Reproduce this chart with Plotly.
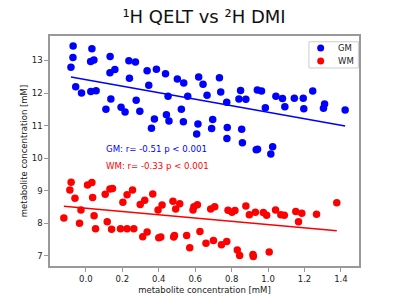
import numpy as np
import plotly.graph_objects as go

gm_x = [-0.070, -0.071, -0.082, 0.033, 0.026, 0.044, -0.056, -0.024, 0.027, 0.056,
        0.133, 0.132, 0.159, 0.236, 0.272, 0.239, 0.137, 0.110, 0.193, 0.215,
        0.276, 0.296, 0.336, 0.387, 0.437, 0.345, 0.451, 0.376, 0.360, 0.442,
        0.456, 0.502, 0.537, 0.559, 0.524, 0.535, 0.619, 0.643, 0.665, 0.615,
        0.608, 0.690, 0.733, 0.740, 0.773, 0.696, 0.776, 0.774, 0.849, 0.840,
        0.878, 0.855, 0.859, 0.941, 0.964, 0.985, 0.935, 0.942, 1.025, 1.015,
        1.043, 1.079, 1.092, 1.144, 1.193, 1.196, 1.245, 1.310, 1.304, 1.423]
gm_y = [13.44, 13.09, 12.79, 13.36, 12.97, 13.01, 12.19, 12.00, 12.05, 12.07,
        13.12, 12.62, 12.72, 12.99, 12.95, 12.45, 11.82, 11.50, 11.56, 11.42,
        11.78, 11.44, 12.68, 12.73, 12.59, 12.24, 11.90, 11.20, 10.92, 11.33,
        11.14, 12.43, 12.31, 11.90, 11.50, 11.12, 12.49, 12.27, 11.93, 11.05,
        10.74, 10.91, 12.47, 12.03, 11.72, 11.19, 10.94, 10.60, 12.08, 11.82,
        11.81, 10.89, 10.47, 12.09, 12.06, 11.55, 10.26, 10.27, 10.35, 10.13,
        11.90, 11.83, 11.58, 11.84, 11.84, 11.52, 12.06, 11.66, 11.53, 11.48]

wm_x = [-0.081, -0.088, -0.060, -0.121, -0.027, -0.035, 0.009, 0.033, 0.037, 0.045,
        0.053, 0.106, 0.132, 0.146, 0.117, 0.141, 0.203, 0.226, 0.256, 0.190,
        0.226, 0.263, 0.298, 0.323, 0.367, 0.312, 0.336, 0.396, 0.418, 0.400,
        0.411, 0.478, 0.493, 0.515, 0.482, 0.486, 0.553, 0.570, 0.588, 0.593,
        0.612, 0.626, 0.659, 0.685, 0.707, 0.700, 0.744, 0.773, 0.780, 0.802,
        0.818, 0.831, 0.844, 0.878, 0.897, 0.930, 0.917, 0.919, 0.974, 0.992,
        1.006, 1.041, 1.070, 1.089, 1.152, 1.185, 1.167, 1.266, 1.377]
wm_y = [9.26, 9.02, 8.77, 8.16, 8.41, 8.00, 9.18, 9.25, 8.79, 8.23,
        7.83, 8.89, 9.05, 9.07, 8.05, 7.82, 8.65, 8.88, 9.02, 7.83,
        7.83, 7.83, 8.58, 8.71, 8.90, 7.59, 7.73, 8.41, 8.56, 7.56,
        7.58, 8.68, 8.44, 8.60, 7.58, 7.63, 7.63, 7.25, 8.41, 8.51,
        8.57, 7.75, 7.39, 8.44, 8.51, 7.47, 7.34, 7.44, 8.40, 8.34,
        8.39, 7.18, 7.01, 8.53, 8.26, 8.34, 7.04, 6.98, 8.33, 8.25,
        7.12, 8.41, 8.26, 8.25, 8.36, 8.31, 8.05, 8.28, 8.63]

series_names = ["GM", "WM"]
series_colors = ["#0000ff", "#ff0000"]
stats_text = ["GM: r= -0.51 p < 0.001", "WM: r= -0.33 p < 0.001"]

x_tick_vals = [0.0, 0.2, 0.4, 0.6, 0.8, 1.0, 1.2, 1.4]
y_tick_vals = [7, 8, 9, 10, 11, 12, 13]

FONT = "DejaVu Sans"
TEXT = "#222222"
fig = go.Figure()
for name, color, xs, ys in zip(series_names, series_colors, [gm_x, wm_x], [gm_y, wm_y]):
    fig.add_trace(go.Scatter(x=xs, y=ys, mode="markers", name=name, showlegend=False,
                             marker=dict(color=color, size=7.5, line=dict(width=0))))
for name, color, xs, ys in zip(series_names, series_colors, [gm_x, wm_x], [gm_y, wm_y]):
    xa = np.array(xs); ya = np.array(ys)
    m, b = np.polyfit(xa, ya, 1)
    lx = np.array([xa.min(), xa.max()])
    fig.add_trace(go.Scatter(x=lx, y=m * lx + b, mode="lines", showlegend=False,
                             line=dict(color=color, width=1.5), hoverinfo="skip"))

ann_y = [10.28, 9.77]
for txt, color, yy in zip(stats_text, series_colors, ann_y):
    fig.add_annotation(x=0.099, y=yy, xref="x", yref="y", text=txt, showarrow=False,
                       xanchor="left", yanchor="middle",
                       font=dict(family=FONT, size=8.6, color=color))

# compact legend box (matplotlib-like)
fig.add_shape(type="rect", xref="paper", yref="paper", x0=0.838, x1=0.998, y0=0.861, y1=0.975,
              line=dict(color="#cccccc", width=1), fillcolor="white", layer="above")
leg_y = [0.948, 0.891]
for name, color, ly in zip(series_names, series_colors, leg_y):
    fig.add_shape(type="circle", xref="paper", yref="paper", xsizemode="pixel", ysizemode="pixel",
                  xanchor=0.876, yanchor=ly, x0=-3.5, x1=3.5, y0=-3.5, y1=3.5,
                  fillcolor=color, line=dict(width=0), layer="above")
    fig.add_annotation(x=0.926, y=ly, xref="paper", yref="paper", text=name, showarrow=False,
                       xanchor="left", yanchor="middle",
                       font=dict(family=FONT, size=8.5, color=TEXT))

axis_common = dict(showline=True, linecolor="#999999", linewidth=1.5, mirror=True,
                   ticks="outside", ticklen=4, tickcolor="#999999", tickwidth=1,
                   showgrid=False, zeroline=False, automargin=False,
                   tickfont=dict(family=FONT, size=8.5, color=TEXT),
                   title_font=dict(family=FONT, size=8.5, color=TEXT))

fig.update_layout(
    width=400, height=300,
    margin=dict(l=50, r=41, t=36, b=34),
    paper_bgcolor="white", plot_bgcolor="white",
    title=dict(text="¹H QELT vs ²H DMI", x=0.51, xanchor="center", y=0.945, yanchor="middle",
               font=dict(family=FONT, size=18, color="#111111")),
    xaxis=dict(range=[-0.197, 1.499], tickvals=x_tick_vals, tickformat=".1f",
               title=dict(text="metabolite concentration [mM]", standoff=4), **axis_common),
    yaxis=dict(range=[6.69, 13.75], tickvals=y_tick_vals,
               title=dict(text="metabolite concentration [mM]", standoff=3), **axis_common),
    showlegend=False,
)
fig.write_html("out.html", config={"displayModeBar": False},
               post_script="document.body.style.margin='0';document.body.style.padding='0';")
